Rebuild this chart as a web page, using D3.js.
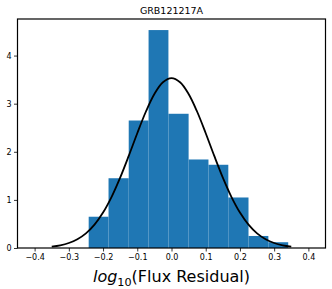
<!DOCTYPE html>
<html>
<head>
<meta charset="utf-8">
<script src="https://cdn.jsdelivr.net/npm/d3@7"></script>
<style>
  html, body { margin: 0; padding: 0; background: #fff; }
  svg { display: block; }
  text { font-family: "DejaVu Sans", sans-serif; }
</style>
</head>
<body>
<svg id="chart" width="332" height="289"></svg>
<script>
// ---- data ----
const chartTitle = "GRB121217A";
const binEdges = [-0.242, -0.184, -0.125, -0.067, -0.009, 0.050, 0.108, 0.166, 0.225, 0.283, 0.341];
const binDensity = [0.65, 1.45, 2.65, 4.53, 2.79, 1.84, 1.73, 1.05, 0.25, 0.12];
const curveX = [-0.35, -0.325, -0.3, -0.275, -0.25, -0.225, -0.2, -0.175, -0.15, -0.125, -0.1, -0.075, -0.05, -0.025, 0,
                0.025, 0.05, 0.075, 0.1, 0.125, 0.15, 0.175, 0.2, 0.225, 0.25, 0.275, 0.3, 0.325, 0.35];
const curveY = [0.029, 0.056, 0.104, 0.183, 0.305, 0.486, 0.737, 1.064, 1.463, 1.914, 2.386, 2.832, 3.201, 3.445, 3.53,
                3.445, 3.201, 2.832, 2.386, 1.914, 1.463, 1.064, 0.737, 0.486, 0.305, 0.183, 0.104, 0.056, 0.029];
const xTicks = [-0.4, -0.3, -0.2, -0.1, 0.0, 0.1, 0.2, 0.3, 0.4];
const yTicks = [0, 1, 2, 3, 4];
const xDomain = [-0.45, 0.45];
const yDomain = [0, 4.76];

// ---- layout ----
const svg = d3.select("#chart");
const L = 17.5, R = 325.5, T = 19, B = 248;
const x = d3.scaleLinear().domain(xDomain).range([L, R]);
const y = d3.scaleLinear().domain(yDomain).range([B, T]);

// bars
const bars = binDensity.map((v, i) => ({x0: binEdges[i], x1: binEdges[i + 1], v}));
svg.append("g").selectAll("rect").data(bars).join("rect")
  .attr("x", d => x(d.x0))
  .attr("width", d => x(d.x1) - x(d.x0))
  .attr("y", d => y(d.v))
  .attr("height", d => y(0) - y(d.v))
  .attr("fill", "#1f77b4");

// curve
const pts = curveX.map((cx, i) => [cx, curveY[i]]);
svg.append("path")
  .datum(pts)
  .attr("fill", "none")
  .attr("stroke", "#000")
  .attr("stroke-width", 1.8)
  .attr("d", d3.line().x(d => x(d[0])).y(d => y(d[1])).curve(d3.curveCatmullRom));

// axes
const fmtX = d3.format(".1f");
const xAxis = d3.axisBottom(x).tickValues(xTicks).tickFormat(fmtX).tickSize(3.5).tickPadding(2.5);
const yAxis = d3.axisLeft(y).tickValues(yTicks).tickFormat(d3.format("d")).tickSize(3.5).tickPadding(2.5);

const gx = svg.append("g").attr("transform", `translate(0,${B})`).call(xAxis);
const gy = svg.append("g").attr("transform", `translate(${L},0)`).call(yAxis);
[gx, gy].forEach(g => {
  g.select(".domain").remove();
  g.selectAll(".tick line").attr("stroke", "#000").attr("stroke-width", 0.8);
  g.selectAll(".tick text").attr("fill", "#000").style("font-size", "8px").style("font-family", "DejaVu Sans");
});

// frame
svg.append("rect")
  .attr("x", L).attr("y", T).attr("width", R - L).attr("height", B - T)
  .attr("fill", "none").attr("stroke", "#000").attr("stroke-width", 1.2);

// title
svg.append("text")
  .attr("x", (L + R) / 2).attr("y", 14)
  .attr("text-anchor", "middle")
  .style("font-size", "9.5px")
  .text(chartTitle);

// x label
const xl = svg.append("text")
  .attr("x", (L + R) / 2).attr("y", 282)
  .attr("text-anchor", "middle")
  .style("font-size", "16px");
xl.append("tspan").style("font-style", "italic").text("log");
xl.append("tspan").attr("dy", 3.5).style("font-size", "11.2px").text("10");
xl.append("tspan").attr("dy", -3.5).text("(Flux Residual)");
</script>
</body>
</html>
